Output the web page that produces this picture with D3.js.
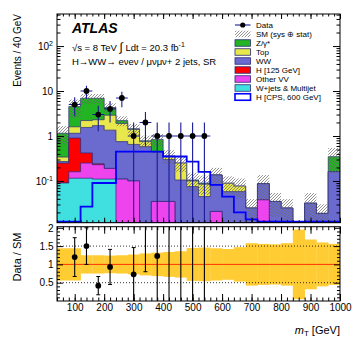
<!DOCTYPE html>
<html>
<head>
<meta charset="utf-8">
<script src="https://cdn.jsdelivr.net/npm/d3@7"></script>
<style>
  body { margin: 0; background: #fff; }
  text { font-family: "Liberation Sans", Arial, Helvetica, sans-serif; }
</style>
</head>
<body>
<svg id="chart" width="357" height="343"></svg>
<script>
// bins: 40 GeV wide, lower edges
const binLo = [40, 80, 120, 160, 200, 240, 280, 320, 360, 400, 440, 480,
               520, 560, 600, 640, 680, 720, 760, 800, 840, 880, 920, 960];
const binWidth = 40;

// observed events per bin
const dataCounts = [0, 5, 10, 3, 4, 7, 1, 2, 1, 1, 1, 1, 1, 0, 0, 0, 0, 0, 0, 0, 0, 0, 0, 0];

// backgrounds (stacked bottom -> top)
const wjets   = [0.09, 0.115, 0.115, 0.11, 0.11, 0, 0, 0, 0, 0, 0, 0, 0, 0, 0, 0, 0, 0, 0, 0, 0, 0, 0, 0];
const otherVV = [0, 0.045, 0.135, 0.12, 0.08, 0.11, 0.10, 0, 0.035, 0.035, 0, 0, 0, 0.021, 0, 0, 0, 0.038, 0, 0, 0, 0, 0, 0];
const h125    = [0.16, 0.74, 0.17, 0.01, 0, 0, 0, 0, 0, 0, 0, 0, 0, 0, 0, 0, 0, 0, 0, 0, 0, 0, 0, 0];
const ww      = [0.02, 0.25, 1.13, 1.46, 1.16, 0.64, 0.55, 0.58, 0.405, 0.265, 0.105, 0.075, 0.045, 0.115, 0.058, 0.058, 0.025, 0.049, 0.035, 0.025, 0, 0.032, 0.019, 0.161];
const topBkg  = [0.07, 0.45, 0.65, 0.6, 1.55, 1.15, 0.75, 0.17, 0.01, 0.05, 0.145, 0.025, 0.04, 0, 0.031, 0.019, 0, 0, 0, 0, 0, 0, 0, 0];
const zgam    = [0.81, 2.9, 4.7, 4.6, 1.4, 0.3, 0.05, 0.03, 0.39, 0.01, 0, 0.005, 0.005, 0, 0, 0, 0, 0, 0, 0, 0, 0, 0, 0.186];

// heavy Higgs signal, CPS 600 GeV
const h600 = [0, 0, 0.027, 0.09, 0.09, 0.45, 0.45, 0.45, 0.45, 0.35, 0.35, 0.27, 0.16, 0.082, 0.045, 0.02, 0.014, 0, 0, 0, 0, 0, 0, 0];

// relative SM uncertainty (sys + stat)
const smRelErr = [0.44, 0.44, 0.25, 0.25, 0.24, 0.25, 0.27, 0.30, 0.32, 0.34, 0.36, 0.45,
                  0.46, 0.44, 0.42, 0.47, 0.58, 0.56, 0.55, 0.58, 0.95, 0.68, 0.60, 0.56];

// data / SM ratio and its error (null = no data)
const ratioVals = [null, 1.2, 1.5, 0.42, 0.93, 3.2, 0.73, 2.6, 1.23, 2.8, 4.0, 10, 11,
                   null, null, null, null, null, null, null, null, null, null, null];
const ratioErrs = [null, 0.53, 0.5, 0.25, 0.48, 1.15, 0.73, 1.8, 1.23, 2.8, 4.0, 10, 11,
                   null, null, null, null, null, null, null, null, null, null, null];

const xTickLabels = [100, 200, 300, 400, 500, 600, 700, 800, 900, 1000];
const yMainTicks = [0.1, 1, 10, 100];
const yRatioTicks = [0.5, 1, 1.5, 2];

const legendLabels = ["Data", "SM (sys \u2295 stat)", "Z/\u03b3*", "Top", "WW", "H [125 GeV]",
                      "Other VV", "W+jets & Multijet", "H [CPS, 600 GeV]"];

var svg = d3.select("#chart");
var left = 57, right = 340, mainTop = 14, mainBot = 222.7, ratTop = 226.7, ratBot = 301;
var yMin = 0.0118, yMax = 516;

var x = d3.scaleLinear().domain([40, 1000]).range([left, right]);
var y = d3.scaleLog().domain([yMin, yMax]).range([mainBot, mainTop]);
var yv = function(v) { return y(Math.max(v, yMin)); };
var yr = d3.scaleLinear().domain([0, 2.03]).range([ratBot, ratTop]);

var colors = { wjets: "#40e0e0", otherVV: "#ee44ee", h125: "#ff0000",
               ww: "#6a6acf", topBkg: "#e8e84c", zgam: "#22b422" };
var edge = "#2a2a78";
var dataBlue = "#1a1a96";

var defs = svg.append("defs");
var pat = defs.append("pattern").attr("id", "hatch")
  .attr("patternUnits", "userSpaceOnUse").attr("width", 3).attr("height", 3);
pat.append("path").attr("d", "M-1,1 l2,-2 M0,3 l3,-3 M2,4 l2,-2")
  .attr("stroke", "#666").attr("stroke-width", 0.7);
defs.append("clipPath").attr("id", "clipMain").append("rect")
  .attr("x", left).attr("y", mainTop).attr("width", right - left).attr("height", mainBot - mainTop);
defs.append("clipPath").attr("id", "clipRatio").append("rect")
  .attr("x", left).attr("y", ratTop).attr("width", right - left).attr("height", ratBot - ratTop);

// ---------- main panel ----------
var plot = svg.append("g").attr("clip-path", "url(#clipMain)");

var keys = ["wjets", "otherVV", "h125", "ww", "topBkg", "zgam"];
var rows = binLo.map(function(lo, i) {
  return { lo: lo, wjets: wjets[i], otherVV: otherVV[i], h125: h125[i],
           ww: ww[i], topBkg: topBkg[i], zgam: zgam[i] };
});
var stacked = d3.stack().keys(keys)(rows);

var stepArea = d3.area().curve(d3.curveStepAfter)
  .x(function(d) { return x(d.x); })
  .y0(mainBot)
  .y1(function(d) { return yv(d.v); });

function stepPoints(vals) {
  var pts = vals.map(function(v, i) { return { x: binLo[i], v: v }; });
  pts.push({ x: binLo[binLo.length - 1] + binWidth, v: vals[vals.length - 1] });
  return pts;
}

stacked.slice().reverse().forEach(function(s) {
  plot.append("path")
    .attr("d", stepArea(stepPoints(s.map(function(d) { return d[1]; }))))
    .attr("fill", colors[s.key])
    .attr("stroke", edge).attr("stroke-width", 0.7);
});

// SM uncertainty hatch
var totals = rows.map(function(r) { return d3.sum(keys, function(k) { return r[k]; }); });
plot.append("g").selectAll("rect")
  .data(binLo.filter(function(lo, i) { return totals[i] > 0; }))
  .enter().append("rect")
  .attr("x", function(lo) { return x(lo); })
  .attr("width", function(lo) { return x(lo + binWidth) - x(lo); })
  .attr("y", function(lo) { var i = binLo.indexOf(lo); return yv(totals[i] * (1 + smRelErr[i])); })
  .attr("height", function(lo) {
    var i = binLo.indexOf(lo);
    return yv(totals[i] * (1 - smRelErr[i])) - yv(totals[i] * (1 + smRelErr[i]));
  })
  .attr("fill", "url(#hatch)");

// H 600 line
var stepLine = d3.line().curve(d3.curveStepAfter)
  .x(function(d) { return x(d.x); })
  .y(function(d) { return Math.min(yv(d.v), mainBot - 1); });
plot.append("path").attr("d", stepLine(stepPoints(h600)))
  .attr("fill", "none").attr("stroke", "#0000ff").attr("stroke-width", 1.8);

// data points
var dataPts = binLo.map(function(lo, i) { return { c: lo + binWidth / 2, lo: lo, n: dataCounts[i] }; })
  .filter(function(d) { return d.n > 0; });
var dg = plot.append("g");
dataPts.forEach(function(d) {
  var e = Math.sqrt(d.n);
  dg.append("line").attr("x1", x(d.c)).attr("x2", x(d.c))
    .attr("y1", yv(d.n + e)).attr("y2", yv(d.n - e))
    .attr("stroke", dataBlue).attr("stroke-width", 1.1);
  dg.append("line").attr("x1", x(d.lo)).attr("x2", x(d.lo + binWidth))
    .attr("y1", yv(d.n)).attr("y2", yv(d.n))
    .attr("stroke", dataBlue).attr("stroke-width", 1.1);
  dg.append("circle").attr("cx", x(d.c)).attr("cy", yv(d.n)).attr("r", 2.9).attr("fill", "#000");
});

// main frame and axes
var xMinor = d3.range(40, 1001, 20);
var yMinor = [];
[0.01, 0.1, 1, 10, 100].forEach(function(dec) {
  for (var m = 2; m <= 9; m++) { var v = dec * m; if (v > yMin && v < yMax) yMinor.push(v); }
});

function cleanAxis(g) { g.select(".domain").remove(); g.selectAll("line").attr("stroke", "#000"); }

svg.append("g").attr("transform", "translate(0," + mainBot + ")")
  .call(d3.axisBottom(x).tickValues(xTickLabels).tickSize(-5).tickFormat("")).call(cleanAxis);
svg.append("g").attr("transform", "translate(0," + mainBot + ")")
  .call(d3.axisBottom(x).tickValues(xMinor).tickSize(-2.5).tickFormat("")).call(cleanAxis);
svg.append("g").attr("transform", "translate(0," + mainTop + ")")
  .call(d3.axisTop(x).tickValues(xTickLabels).tickSize(-5).tickFormat("")).call(cleanAxis);
svg.append("g").attr("transform", "translate(0," + mainTop + ")")
  .call(d3.axisTop(x).tickValues(xMinor).tickSize(-2.5).tickFormat("")).call(cleanAxis);

var yAxisMain = svg.append("g").attr("transform", "translate(" + left + ",0)")
  .call(d3.axisLeft(y).tickValues(yMainTicks).tickSize(-7).tickPadding(4).tickFormat(""))
  .call(cleanAxis);
yAxisMain.selectAll(".tick text").each(function(d) {
  var t = d3.select(this).attr("font-size", 10).attr("fill", "#000").attr("font-family", null);
  if (d === 1) { t.text("1"); }
  else if (d === 10) { t.text("10"); }
  else {
    t.text("10");
    t.append("tspan").attr("dy", -4).attr("font-size", 7).text(d === 100 ? "2" : "-1");
  }
});
svg.append("g").attr("transform", "translate(" + left + ",0)")
  .call(d3.axisLeft(y).tickValues(yMinor).tickSize(-3.5).tickFormat("")).call(cleanAxis);
svg.append("g").attr("transform", "translate(" + right + ",0)")
  .call(d3.axisRight(y).tickValues(yMainTicks).tickSize(-7).tickFormat("")).call(cleanAxis);
svg.append("g").attr("transform", "translate(" + right + ",0)")
  .call(d3.axisRight(y).tickValues(yMinor).tickSize(-3.5).tickFormat("")).call(cleanAxis);

svg.append("rect").attr("x", left).attr("y", mainTop)
  .attr("width", right - left).attr("height", mainBot - mainTop)
  .attr("fill", "none").attr("stroke", "#000").attr("stroke-width", 1);

// ---------- ratio panel ----------
var rp = svg.append("g").attr("clip-path", "url(#clipRatio)");
rp.append("g").selectAll("rect").data(binLo).enter().append("rect")
  .attr("x", function(lo) { return x(lo); })
  .attr("width", function(lo) { return x(lo + binWidth) - x(lo) + 0.3; })
  .attr("y", function(lo, i) { return yr(1 + smRelErr[i]); })
  .attr("height", function(lo, i) { return yr(1 - smRelErr[i]) - yr(1 + smRelErr[i]); })
  .attr("fill", "#ffcc33");
[0.5, 1.5].forEach(function(v) {
  rp.append("line").attr("x1", left).attr("x2", right).attr("y1", yr(v)).attr("y2", yr(v))
    .attr("stroke", "#000").attr("stroke-width", 0.8).attr("stroke-dasharray", "1,2");
});
rp.append("line").attr("x1", left).attr("x2", right).attr("y1", yr(1)).attr("y2", yr(1))
  .attr("stroke", "#ff3300").attr("stroke-width", 1);

binLo.forEach(function(lo, i) {
  if (ratioVals[i] === null) return;
  var cx = x(lo + binWidth / 2), r = ratioVals[i], e = ratioErrs[i];
  var y1 = yr(r + e), y2 = yr(Math.max(r - e, 0));
  rp.append("line").attr("x1", cx).attr("x2", cx).attr("y1", y1).attr("y2", y2)
    .attr("stroke", "#000").attr("stroke-width", 1.1);
  [r + e, Math.max(r - e, 0)].forEach(function(v) {
    if (v > 0 && v < 2.03) {
      rp.append("line").attr("x1", cx - 2).attr("x2", cx + 2).attr("y1", yr(v)).attr("y2", yr(v))
        .attr("stroke", "#000").attr("stroke-width", 1);
    }
  });
  rp.append("circle").attr("cx", cx).attr("cy", yr(r)).attr("r", 2.9).attr("fill", "#000");
});

var yrMinor = d3.range(0.1, 2.01, 0.1).filter(function(v) { return Math.abs(v * 2 - Math.round(v * 2)) > 0.01; });

var xAxisRatio = svg.append("g").attr("transform", "translate(0," + ratBot + ")")
  .call(d3.axisBottom(x).tickValues(xTickLabels).tickSize(-7).tickPadding(2.5).tickFormat(d3.format("d")))
  .call(cleanAxis);
xAxisRatio.selectAll(".tick text").attr("font-size", 10).attr("fill", "#000").attr("font-family", null);
svg.append("g").attr("transform", "translate(0," + ratBot + ")")
  .call(d3.axisBottom(x).tickValues(xMinor).tickSize(-3.5).tickFormat("")).call(cleanAxis);
svg.append("g").attr("transform", "translate(0," + ratTop + ")")
  .call(d3.axisTop(x).tickValues(xTickLabels).tickSize(-7).tickFormat("")).call(cleanAxis);
svg.append("g").attr("transform", "translate(0," + ratTop + ")")
  .call(d3.axisTop(x).tickValues(xMinor).tickSize(-3.5).tickFormat("")).call(cleanAxis);

var yAxisRatio = svg.append("g").attr("transform", "translate(" + left + ",0)")
  .call(d3.axisLeft(yr).tickValues(yRatioTicks).tickSize(-6).tickPadding(3.5)
    .tickFormat(function(d) { return String(d); }))
  .call(cleanAxis);
yAxisRatio.selectAll(".tick text").attr("font-size", 10).attr("fill", "#000").attr("font-family", null);
svg.append("g").attr("transform", "translate(" + left + ",0)")
  .call(d3.axisLeft(yr).tickValues(yrMinor).tickSize(-3).tickFormat("")).call(cleanAxis);
svg.append("g").attr("transform", "translate(" + right + ",0)")
  .call(d3.axisRight(yr).tickValues(yRatioTicks).tickSize(-6).tickFormat("")).call(cleanAxis);
svg.append("g").attr("transform", "translate(" + right + ",0)")
  .call(d3.axisRight(yr).tickValues(yrMinor).tickSize(-3).tickFormat("")).call(cleanAxis);

svg.append("rect").attr("x", left).attr("y", ratTop)
  .attr("width", right - left).attr("height", ratBot - ratTop)
  .attr("fill", "none").attr("stroke", "#000").attr("stroke-width", 1);

// ---------- titles ----------
svg.append("text").attr("transform", "translate(20.5,14) rotate(-90)")
  .attr("text-anchor", "end").attr("font-size", 10).text("Events / 40 GeV");
svg.append("text").attr("transform", "translate(21,257) rotate(-90)")
  .attr("text-anchor", "middle").attr("font-size", 11).text("Data / SM");
var xt = svg.append("text").attr("x", right).attr("y", 334).attr("text-anchor", "end").attr("font-size", 11);
xt.append("tspan").attr("font-style", "italic").text("m");
xt.append("tspan").attr("font-size", 8).attr("dy", 2).text("T");
xt.append("tspan").attr("dy", -2).text(" [GeV]");

svg.append("text").attr("x", 72).attr("y", 33.3).attr("font-size", 14)
  .attr("font-weight", "bold").attr("font-style", "italic").text("ATLAS");
var lumi = svg.append("text").attr("x", 72).attr("y", 51).attr("font-size", 9.5);
lumi.append("tspan").text("\u221As = 8 TeV ");
lumi.append("tspan").attr("font-size", 12).text("\u222B");
lumi.append("tspan").text(" Ldt =  20.3 fb");
lumi.append("tspan").attr("font-size", 7).attr("dy", -4).text("-1");
svg.append("text").attr("x", 72).attr("y", 65).attr("font-size", 9.5)
  .text("H\u2192WW\u2192 e\u03bde\u03bd / \u03bc\u03bd\u03bc\u03bd+ 2 jets, SR");

// ---------- legend ----------
var legend = svg.append("g");
var legX = 235, legW = 15.5, legH = 6.5, legY0 = 25, legDy = 9;
var legendFill = [null, "url(#hatch)", colors.zgam, colors.topBkg, colors.ww, colors.h125,
                  colors.otherVV, colors.wjets, "#fff"];
legendLabels.forEach(function(lab, i) {
  var cy = legY0 + i * legDy;
  if (i === 0) {
    legend.append("line").attr("x1", legX).attr("x2", legX + legW).attr("y1", cy).attr("y2", cy)
      .attr("stroke", dataBlue).attr("stroke-width", 1.1);
    legend.append("circle").attr("cx", legX + legW / 2).attr("cy", cy).attr("r", 2.6).attr("fill", "#000");
  } else if (i === 1) {
    legend.append("rect").attr("x", legX).attr("y", cy - legH / 2).attr("width", legW).attr("height", legH)
      .attr("fill", legendFill[i]);
  } else {
    legend.append("rect").attr("x", legX).attr("y", cy - legH / 2).attr("width", legW).attr("height", legH)
      .attr("fill", legendFill[i])
      .attr("stroke", i === 8 ? "#0000ff" : edge).attr("stroke-width", i === 8 ? 1.6 : 0.8);
  }
  legend.append("text").attr("x", 256).attr("y", cy + 2.9).attr("font-size", 8).text(lab);
});
</script>
</body>
</html>
